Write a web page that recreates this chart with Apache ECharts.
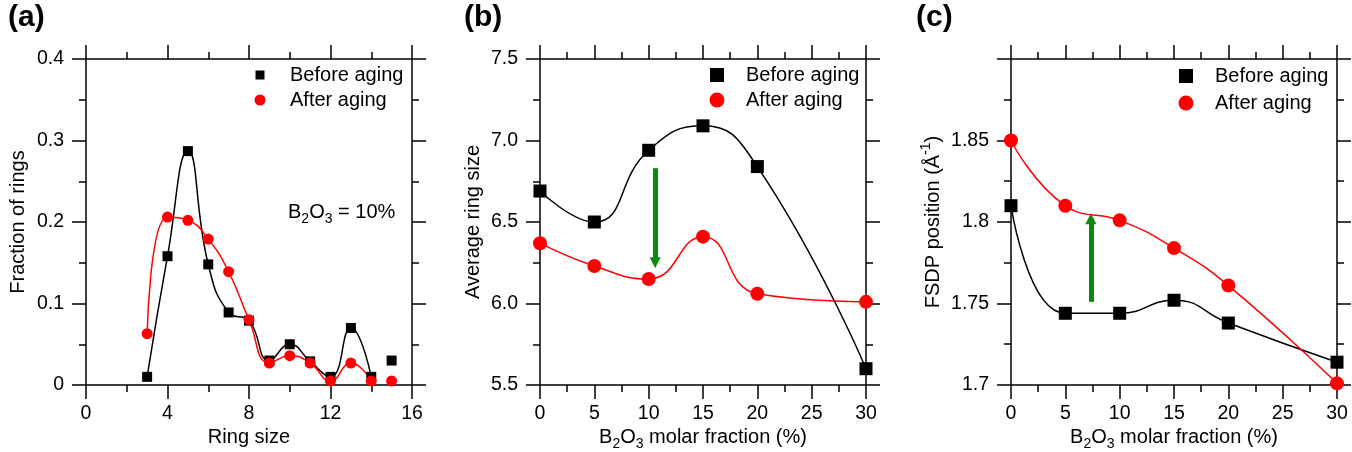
<!DOCTYPE html>
<html><head><meta charset="utf-8">
<script src="https://cdn.jsdelivr.net/npm/echarts@6/dist/echarts.min.js"></script>
<style>html,body{margin:0;padding:0;background:#fff}#c{width:1352px;height:452px}</style>
</head><body><div id="c"></div>
<script>
// ---- data ----
const ringSize = [3,4,5,6,7,8,9,10,11,12,13,14,15];
const ringBefore = [0.010,0.158,0.287,0.148,0.089,0.079,0.030,0.050,0.029,0.010,0.070,0.010,0.030];
const ringAfter  = [0.063,0.206,0.202,0.179,0.139,0.080,0.027,0.036,0.027,0.005,0.027,0.005,0.005];
const ringConnected = 12; // first 12 points (3..14) joined by the curve
const b2o3 = [0,5,10,15,20,30];
const avgBefore = [6.69,6.50,6.94,7.09,6.84,5.60];
const avgAfter  = [6.37,6.23,6.15,6.41,6.06,6.01];
const fsdpBefore = [1.810,1.744,1.744,1.752,1.738,1.714];
const fsdpAfter  = [1.850,1.810,1.801,1.784,1.761,1.701];
const arrowB = {x:10.6, from:6.83, to:6.25};
const arrowC = {x:7.35, from:1.751, to:1.802};
const xTicksA = [0,16,4], yTicksA = [0,0.4,0.1];
const xTicksBC = [0,30,5], yTicksB = [5.5,7.5,0.5], yTicksC = [1.7,1.9,0.05];
const legendNames = ['Before aging','After aging'];

const FONT = '"Liberation Sans", Arial, Helvetica, sans-serif';
const FS = 20, TFS = 19.5;
const BLACK = '#000', RED = '#ff0000', GREEN = '#0a8a0a';
const zip = (xs, ys) => xs.map((x,i)=>[x, ys[i]]);

const grids = [
  {left:86, top:59, width:326, height:326, outerBoundsMode:'none', containLabel:false},
  {left:540, top:59, width:326, height:326, outerBoundsMode:'none', containLabel:false},
  {left:1011, top:59, width:326, height:326, outerBoundsMode:'none', containLabel:false}
];
function axisBase(t, extra){
  return Object.assign({
    type:'value', min:t[0], max:t[1], interval:t[2],
    axisLine:{show:true,onZero:false,lineStyle:{color:BLACK,width:1.5}},
    axisTick:{show:true,inside:false,length:14,lineStyle:{color:BLACK,width:1.5}},
    minorTick:{show:true,splitNumber:2,length:7,lineStyle:{color:BLACK,width:1.5}},
    splitLine:{show:false}, minorSplitLine:{show:false},
    axisLabel:{show:true,color:BLACK,fontSize:TFS,fontFamily:FONT},
    nameTextStyle:{color:BLACK,fontSize:FS,fontFamily:FONT},
    nameLocation:'middle'
  }, extra);
}
const subRich = {
  s:{fontSize:14,fontFamily:FONT,color:BLACK,verticalAlign:'bottom',lineHeight:28},
  p:{fontSize:14,fontFamily:FONT,color:BLACK,verticalAlign:'top',lineHeight:28}
};
const nameStyle = {color:BLACK,fontSize:FS,fontFamily:FONT,lineHeight:28,rich:subRich};
const xLab = {color:BLACK,fontSize:TFS,fontFamily:FONT,margin:19};
const yLab = (fmt) => ({color:BLACK,fontSize:TFS,fontFamily:FONT,margin:22,formatter:fmt});
const xName = (name) => ({name:name,nameGap:38,nameMoveOverlap:false,axisLabel:xLab,nameTextStyle:nameStyle});

const xAxes = [], yAxes = [];
// panel a
xAxes.push(axisBase(xTicksA,Object.assign({gridIndex:0,position:'bottom'},xName('Ring size'))));
xAxes.push(axisBase(xTicksA,{gridIndex:0,position:'top',axisLabel:{show:false}}));
yAxes.push(axisBase(yTicksA,{gridIndex:0,position:'left',name:'Fraction of rings',nameGap:54,nameRotate:90,
  axisLabel:yLab(v=>String(parseFloat(v.toFixed(2)))),nameTextStyle:nameStyle}));
yAxes.push(axisBase(yTicksA,{gridIndex:0,position:'right',axisLabel:{show:false}}));
// panel b
xAxes.push(axisBase(xTicksBC,Object.assign({gridIndex:1,position:'bottom'},xName('B{s|2}O{s|3} molar fraction (%)'))));
xAxes.push(axisBase(xTicksBC,{gridIndex:1,position:'top',axisLabel:{show:false}}));
yAxes.push(axisBase(yTicksB,{gridIndex:1,position:'left',name:'Average ring size',nameGap:53,nameRotate:90,
  axisLabel:yLab(v=>v.toFixed(1)),nameTextStyle:nameStyle}));
yAxes.push(axisBase(yTicksB,{gridIndex:1,position:'right',axisLabel:{show:false}}));
// panel c
xAxes.push(axisBase(xTicksBC,Object.assign({gridIndex:2,position:'bottom'},xName('B{s|2}O{s|3} molar fraction (%)'))));
xAxes.push(axisBase(xTicksBC,{gridIndex:2,position:'top',axisLabel:{show:false}}));
yAxes.push(axisBase(yTicksC,{gridIndex:2,position:'left',name:'FSDP position (Å{p|-1})',nameGap:63,nameRotate:90,
  axisLabel:yLab(v=>{const r=parseFloat(v.toFixed(3));return Math.abs(r-1.9)<1e-6?'':String(r);}),nameTextStyle:nameStyle}));
yAxes.push(axisBase(yTicksC,{gridIndex:2,position:'right',axisLabel:{show:false}}));

function curve(xi, yi, data, color){
  return {type:'line',xAxisIndex:xi,yAxisIndex:yi,data:data,smooth:0.5,showSymbol:false,symbol:'none',
    lineStyle:{color:color,width:1.5},silent:true,z:2,animation:false};
}
function pts(name, xi, yi, data, shape, size, color){
  return {type:'scatter',name:name,xAxisIndex:xi,yAxisIndex:yi,data:data,symbol:shape,symbolSize:size,
    itemStyle:{color:color,opacity:1},z:3,animation:false};
}
function arrow(xi, yi, a){
  return {type:'line',xAxisIndex:xi,yAxisIndex:yi,data:[],silent:true,animation:false,
    markLine:{silent:true,animation:false,symbol:['none','triangle'],symbolSize:[11,11],label:{show:false},
      lineStyle:{color:GREEN,width:5,type:'solid'},
      data:[[{coord:[a.x,a.from]},{coord:[a.x,a.to]}]]}};
}

const series = [
  curve(0,0, zip(ringSize,ringBefore).slice(0,ringConnected), BLACK),
  curve(0,0, zip(ringSize,ringAfter).slice(0,ringConnected), RED),
  pts(legendNames[0],0,0, zip(ringSize,ringBefore),'rect',10,BLACK),
  pts(legendNames[1],0,0, zip(ringSize,ringAfter),'circle',11,RED),

  curve(2,2, zip(b2o3,avgBefore), BLACK),
  curve(2,2, zip(b2o3,avgAfter), RED),
  pts(legendNames[0],2,2, zip(b2o3,avgBefore),'rect',13,BLACK),
  pts(legendNames[1],2,2, zip(b2o3,avgAfter),'circle',14,RED),
  arrow(2,2,arrowB),

  curve(4,4, zip(b2o3,fsdpBefore), BLACK),
  curve(4,4, zip(b2o3,fsdpAfter), RED),
  pts(legendNames[0],4,4, zip(b2o3,fsdpBefore),'rect',13,BLACK),
  pts(legendNames[1],4,4, zip(b2o3,fsdpAfter),'circle',14,RED),
  arrow(4,4,arrowC)
];

// legend blocks (key drawn as graphic elements)
function legendBlock(cx, y1, y2, sq, ci, tx){
  return [
    {type:'rect',shape:{x:cx-sq/2,y:y1-sq/2,width:sq,height:sq},style:{fill:BLACK}},
    {type:'circle',shape:{cx:cx,cy:y2,r:ci/2},style:{fill:RED}},
    {type:'text',x:tx,y:y1,style:{text:legendNames[0],fill:BLACK,font:FS+'px '+FONT,verticalAlign:'middle'}},
    {type:'text',x:tx,y:y2,style:{text:legendNames[1],fill:BLACK,font:FS+'px '+FONT,verticalAlign:'middle'}}
  ];
}

const option = {
  animation:false,
  backgroundColor:'#fff',
  grid: grids,
  xAxis: xAxes,
  yAxis: yAxes,
  series: series,
  graphic:[
    {type:'text',left:8,top:3,style:{text:'(a)',font:'bold 30px '+FONT,fill:BLACK}},
    {type:'text',left:464,top:3,style:{text:'(b)',font:'bold 30px '+FONT,fill:BLACK}},
    {type:'text',left:916,top:3,style:{text:'(c)',font:'bold 30px '+FONT,fill:BLACK}},
    {type:'text',left:288,top:198,style:{text:'B{s|2}O{s|3} = 10%',fill:BLACK,font:FS+'px '+FONT,lineHeight:28,
      rich:{s:{fontSize:14,fontFamily:FONT,fill:BLACK,verticalAlign:'bottom',lineHeight:28}}}},
    ...legendBlock(260,75,100,9,11,290),
    ...legendBlock(717,75,100,14,15,746),
    ...legendBlock(1186,76,103,14,15,1215)
  ]
};
const chart = echarts.init(document.getElementById('c'),null,{renderer:'canvas'});
chart.setOption(option);
</script></body></html>
